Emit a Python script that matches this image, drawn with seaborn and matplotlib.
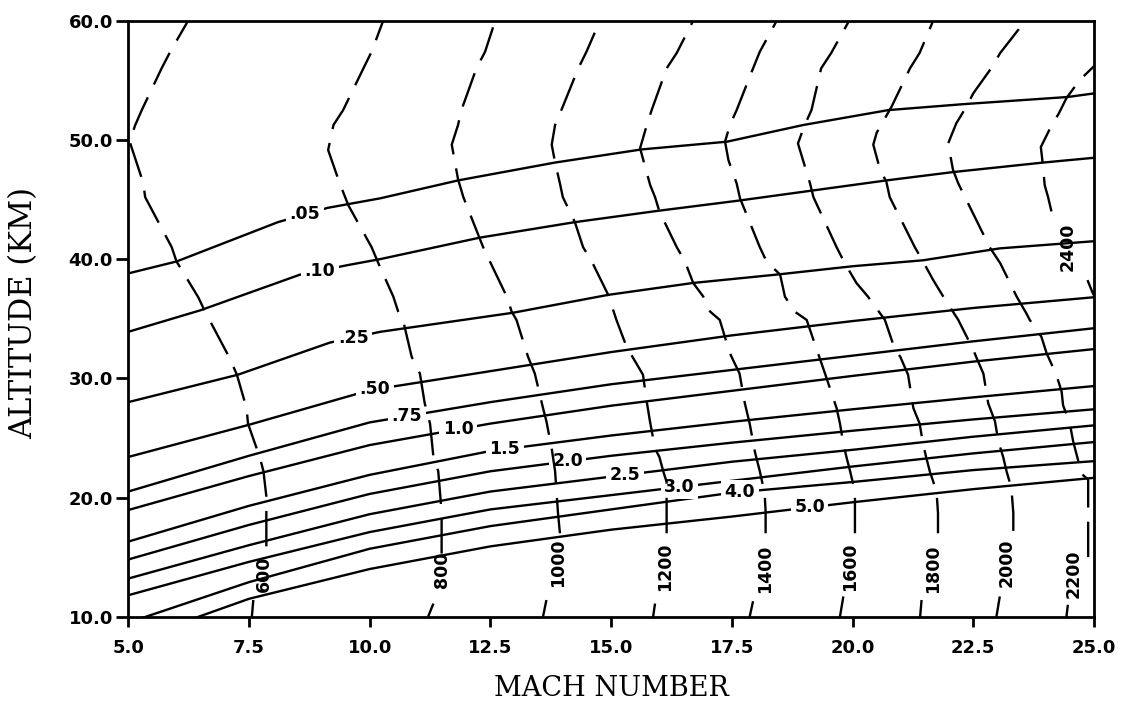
import numpy as np
import pandas as pd
import matplotlib
matplotlib.use("Agg")
import matplotlib.pyplot as plt
import seaborn as sns

# ---------------------------------------------------------------------------
# Dynamic-pressure contours (solid): altitude (km)
# ---------------------------------------------------------------------------
mach_grid = [5.0, 7.5, 10.0, 12.5, 15.0, 17.5, 20.0, 22.5, 25.0]

q005_mach = [5.0, 6.0, 8.1, 9.13, 10.22, 11.83, 13.84, 15.63, 17.4, 18.98, 20.74, 22.3, 24.46, 25.0]
q005_alt = [38.8, 39.8, 43.1, 44.3, 45.1, 46.6, 48.1, 49.2, 49.85, 51.25, 52.5, 53.0, 53.6, 53.9]

q010_mach = [5.0, 6.49, 8.56, 9.55, 10.22, 12.28, 14.25, 15.97, 17.63, 20.7, 22.08, 23.95, 25.0]
q010_alt = [33.9, 35.7, 38.7, 39.5, 40.0, 41.8, 43.1, 44.05, 44.9, 46.6, 47.3, 48.1, 48.5]

q025_mach = [5.0, 7.27, 9.18, 10.22, 12.97, 14.94, 16.7, 18.43, 20.0, 21.46, 23.05, 25.0]
q025_alt = [28.0, 30.3, 33.0, 33.9, 35.5, 37.0, 38.0, 38.7, 39.4, 39.9, 40.9, 41.5]

q050_alt = [23.4, 26.1, 29.0, 30.6, 32.2, 33.6, 34.8, 35.9, 36.8]
q075_alt = [20.5, 23.5, 26.3, 28.0, 29.5, 30.7, 31.9, 33.1, 34.2]
q100_alt = [18.95, 21.8, 24.4, 26.2, 27.7, 28.95, 30.2, 31.4, 32.45]
q150_alt = [16.3, 19.3, 21.9, 23.9, 25.2, 26.35, 27.4, 28.4, 29.35]
q200_alt = [14.8, 17.7, 20.3, 22.2, 23.5, 24.6, 25.6, 26.55, 27.4]
q250_alt = [13.2, 16.0, 18.6, 20.5, 21.75, 23.0, 24.0, 25.1, 26.05]
q300_alt = [11.8, 14.6, 17.1, 19.0, 20.2, 21.4, 22.6, 23.7, 24.65]
q400_alt = [9.5, 12.9, 15.7, 17.6, 19.0, 20.4, 21.3, 22.3, 23.05]
q500_alt = [7.9, 11.5, 14.0, 15.9, 17.3, 18.4, 19.6, 20.7, 21.65]

q_labels = [".05", ".10", ".25", ".50", ".75", "1.0", "1.5", "2.0", "2.5", "3.0", "4.0", "5.0"]
q_label_mach = [8.66, 8.97, 9.66, 10.11, 10.77, 11.83, 12.8, 14.1, 15.29, 16.42, 17.67, 19.11]

# ---------------------------------------------------------------------------
# Temperature contours (dashed): Mach, bottom to top.
# Each line is split where its value label sits.
# ---------------------------------------------------------------------------
t600_low_alt, t600_low_mach = [10.0, 11.4], [7.56, 7.59]
t600_alt = [15.9, 20.1, 22.2, 23.3, 26.2, 27.5, 30.3, 31.7, 35.6, 36.8, 39.8, 41.0,
            45.2, 46.4, 49.85, 51.2, 52.5, 56.0, 57.4, 60.0]
t600_mach = [7.86, 7.86, 7.8, 7.73, 7.48, 7.45, 7.25, 7.1, 6.59, 6.45, 6.0, 5.9,
             5.35, 5.31, 5.03, 5.14, 5.28, 5.69, 5.87, 6.24]

t800_low_alt, t800_low_mach = [10.0, 11.1], [11.21, 11.32]
t800_alt = [15.3, 18.8, 22.2, 23.4, 26.2, 27.9, 30.4, 31.8, 34.9, 35.6, 36.85, 39.65,
            41.0, 44.5, 46.35, 49.15, 51.25, 52.5, 56.0, 57.4, 60.0]
t800_mach = [11.49, 11.49, 11.42, 11.32, 11.25, 11.14, 11.04, 10.87, 10.69, 10.59, 10.49, 10.18,
             10.04, 9.56, 9.38, 9.14, 9.25, 9.45, 9.87, 10.04, 10.28]

t1000_low_alt, t1000_low_mach = [10.0, 11.4], [13.59, 13.66]
t1000_alt = [17.0, 18.7, 22.2, 24.1, 26.4, 27.5, 30.4, 31.8, 34.9, 35.6, 36.85, 39.8,
             41.0, 45.2, 46.7, 49.6, 51.25, 52.5, 56.0, 57.4, 60.0]
t1000_mach = [13.94, 13.9, 13.84, 13.77, 13.66, 13.59, 13.42, 13.28, 13.04, 12.94, 12.84, 12.49,
              12.35, 11.94, 11.83, 11.7, 11.83, 11.9, 12.21, 12.39, 12.6]

t1200_low_alt, t1200_low_mach = [10.0, 11.1], [15.87, 15.91]
t1200_alt = [17.0, 21.3, 22.2, 23.4, 24.1, 26.5, 28.0, 30.3, 32.65, 34.9, 37.0, 39.8,
             41.0, 43.1, 45.2, 46.35, 48.1, 49.6, 51.25, 52.5, 56.0, 57.4, 60.0]
t1200_mach = [16.15, 16.15, 16.08, 16.0, 15.91, 15.8, 15.74, 15.66, 15.32, 15.11, 14.94, 14.6,
              14.42, 14.25, 14.0, 13.94, 13.84, 13.77, 13.84, 13.97, 14.32, 14.49, 14.77]

t1400_low_alt, t1400_low_mach = [10.0, 11.3], [17.87, 17.94]
t1400_alt = [17.0, 18.8, 20.35, 22.2, 23.8, 26.2, 27.9, 30.4, 32.1, 34.9, 35.6, 36.85,
             38.0, 39.8, 41.0, 44.0, 45.2, 46.2, 49.3, 51.25, 52.5, 56.0, 57.3, 60.0]
t1400_mach = [18.2, 18.2, 18.18, 18.08, 17.98, 17.87, 17.77, 17.66, 17.46, 17.25, 17.05, 16.91,
              16.7, 16.53, 16.36, 16.0, 15.91, 15.81, 15.6, 15.74, 15.84, 16.15, 16.36, 16.7]

t1600_low_alt, t1600_low_mach = [10.0, 11.7], [19.74, 19.81]
t1600_alt = [17.0, 18.7, 20.5, 22.2, 23.3, 24.5, 26.2, 27.5, 30.4, 32.4, 34.9, 35.6,
             36.85, 38.7, 39.8, 41.0, 45.1, 46.35, 48.3, 49.85, 51.25, 52.5, 56.0, 57.4, 60.0]
t1600_mach = [20.05, 20.05, 20.05, 19.95, 19.88, 19.81, 19.74, 19.67, 19.43, 19.26, 19.05, 18.8,
              18.6, 18.5, 18.22, 18.08, 17.67, 17.6, 17.43, 17.36, 17.46, 17.6, 17.94, 18.08, 18.43]

t1800_low_alt, t1800_low_mach = [10.0, 11.4], [21.4, 21.43]
t1800_alt = [17.0, 18.7, 20.5, 22.2, 23.3, 24.5, 26.2, 27.5, 30.3, 31.8, 32.4, 34.9,
             36.85, 38.0, 39.65, 41.0, 45.2, 46.35, 49.7, 51.25, 52.5, 56.0, 57.3, 60.0]
t1800_mach = [21.77, 21.77, 21.74, 21.6, 21.53, 21.46, 21.39, 21.26, 21.15, 20.99, 20.88, 20.67,
              20.32, 20.08, 19.84, 19.67, 19.19, 19.12, 18.87, 19.01, 19.15, 19.35, 19.56, 19.93]

t2000_low_alt, t2000_low_mach = [10.0, 11.7], [22.98, 23.05]
t2000_alt = [17.2, 18.7, 20.8, 22.2, 23.4, 24.7, 26.4, 27.9, 30.4, 31.7, 32.4, 34.9,
             36.85, 38.25, 39.8, 41.0, 42.7, 45.2, 46.5, 47.5, 49.6, 50.6, 52.8, 56.0, 57.3, 60.0]
t2000_mach = [23.33, 23.33, 23.29, 23.19, 23.12, 23.02, 22.95, 22.81, 22.71, 22.57, 22.5, 22.19,
              21.88, 21.67, 21.46, 21.29, 21.08, 20.77, 20.7, 20.57, 20.43, 20.5, 20.81, 21.19, 21.39, 21.67]

t2200_low_alt, t2200_low_mach = [10.0, 11.0], [24.43, 24.46]
t2200_alt = [15.0, 18.8, 21.5, 22.0, 23.15, 24.7, 26.2, 27.75, 28.9, 30.3, 32.1, 33.5,
             34.9, 35.45, 36.85, 39.65, 41.0, 46.35, 47.5, 49.7, 51.4, 52.8, 53.9, 56.0, 57.3, 60.0]
t2200_mach = [24.88, 24.88, 24.88, 24.74, 24.67, 24.57, 24.5, 24.36, 24.33, 24.22, 24.02, 23.91,
              23.67, 23.6, 23.4, 23.06, 22.84, 22.19, 22.08, 21.98, 22.15, 22.36, 22.5, 22.87, 23.06, 23.58]

t2400_low_alt, t2400_low_mach = [35.6, 37.1, 39.1], [25.2, 24.98, 24.78]
t2400_alt = [44.0, 45.2, 46.2, 48.0, 49.4, 51.2, 52.2, 53.5, 55.0, 56.1, 57.0]
t2400_mach = [24.12, 24.05, 23.98, 23.94, 23.9, 24.12, 24.27, 24.43, 24.7, 24.98, 25.2]

t_labels = ["600", "800", "1000", "1200", "1400", "1600", "1800", "2000", "2200", "2400"]
t_label_mach = [7.8, 11.49, 13.9, 16.11, 18.18, 19.95, 21.67, 23.19, 24.58, 24.46]
t_label_alt = [13.6, 13.9, 14.5, 14.2, 14.0, 14.2, 14.06, 14.5, 13.6, 41.0]

# ---------------------------------------------------------------------------
# Long tables for seaborn
# ---------------------------------------------------------------------------
solid_lines = [
    (q005_mach, q005_alt), (q010_mach, q010_alt), (q025_mach, q025_alt),
    (mach_grid, q050_alt), (mach_grid, q075_alt), (mach_grid, q100_alt),
    (mach_grid, q150_alt), (mach_grid, q200_alt), (mach_grid, q250_alt),
    (mach_grid, q300_alt), (mach_grid, q400_alt), (mach_grid, q500_alt),
]
solid_df = pd.concat(
    [pd.DataFrame({"mach": m, "alt": a, "level": lab})
     for (m, a), lab in zip(solid_lines, q_labels)],
    ignore_index=True,
)

dashed_segments = [
    (t600_low_mach, t600_low_alt), (t600_mach, t600_alt),
    (t800_low_mach, t800_low_alt), (t800_mach, t800_alt),
    (t1000_low_mach, t1000_low_alt), (t1000_mach, t1000_alt),
    (t1200_low_mach, t1200_low_alt), (t1200_mach, t1200_alt),
    (t1400_low_mach, t1400_low_alt), (t1400_mach, t1400_alt),
    (t1600_low_mach, t1600_low_alt), (t1600_mach, t1600_alt),
    (t1800_low_mach, t1800_low_alt), (t1800_mach, t1800_alt),
    (t2000_low_mach, t2000_low_alt), (t2000_mach, t2000_alt),
    (t2200_low_mach, t2200_low_alt), (t2200_mach, t2200_alt),
    (t2400_low_mach, t2400_low_alt), (t2400_mach, t2400_alt),
]
dashed_df = pd.concat(
    [pd.DataFrame({"mach": m, "alt": a, "seg": i})
     for i, (m, a) in enumerate(dashed_segments)],
    ignore_index=True,
)

# ---------------------------------------------------------------------------
# Figure
# ---------------------------------------------------------------------------
sns.set_theme(style="ticks")
plt.rcParams["font.family"] = ["DejaVu Sans"]
plt.rcParams["text.color"] = "black"
plt.rcParams["axes.labelcolor"] = "black"

fig = plt.figure(figsize=(11.25, 7.04), dpi=100)
ax = fig.add_axes([0.114, 0.124, 0.8584, 0.8466])

sns.lineplot(data=solid_df, x="mach", y="alt", units="level", estimator=None,
             sort=False, color="black", linewidth=1.7, ax=ax, zorder=2)
sns.lineplot(data=dashed_df, x="mach", y="alt", units="seg", estimator=None,
             sort=False, color="black", linewidth=1.7, linestyle=(0, (15, 6)),
             ax=ax, zorder=4)

label_font = dict(family="DejaVu Sans", weight="bold", size=12.5, color="black")

# contour values for the solid lines sit in gaps cut out of each line
for (m, a), lab, lm in zip(solid_lines, q_labels, q_label_mach):
    la = float(np.interp(lm, m, a))
    ax.text(lm, la, lab, ha="center", va="center", zorder=3, fontdict=label_font,
            bbox=dict(facecolor="white", edgecolor="none", pad=2.5))

for lab, lm, la in zip(t_labels, t_label_mach, t_label_alt):
    ax.text(lm, la, lab, ha="center", va="center", rotation=90, zorder=5,
            fontdict=label_font)

ax.set_xlim(5, 25)
ax.set_ylim(10, 60)
xt = np.arange(5.0, 25.01, 2.5)
yt = np.arange(10.0, 60.01, 10.0)
ax.set_xticks(xt)
ax.set_xticklabels([f"{v:.1f}" for v in xt])
ax.set_yticks(yt)
ax.set_yticklabels([f"{v:.1f}" for v in yt])
for t in ax.get_xticklabels() + ax.get_yticklabels():
    t.set_fontfamily("DejaVu Sans")
    t.set_fontweight("bold")
    t.set_fontsize(13)
    t.set_color("black")

ax.tick_params(axis="x", direction="out", length=7, width=2, pad=9, colors="black")
ax.tick_params(axis="y", direction="out", length=9, width=2, pad=2, colors="black")

for side in ["left", "bottom", "top", "right"]:
    ax.spines[side].set_visible(True)
    ax.spines[side].set_color("black")
    ax.spines[side].set_linewidth(2)

ax.set_xlabel("MACH NUMBER", fontfamily="DejaVu Serif", fontsize=19.5, color="black")
ax.set_ylabel("ALTITUDE (KM)", fontfamily="DejaVu Serif", fontsize=22, color="black")
ax.xaxis.set_label_coords(0.5, -0.12)
ax.yaxis.set_label_coords(-0.108, 0.51)
ax.xaxis.label.set_va("center")
ax.yaxis.label.set_va("center")

if ax.get_legend() is not None:
    ax.get_legend().remove()

fig.savefig("out.png", dpi=100, facecolor="white")
